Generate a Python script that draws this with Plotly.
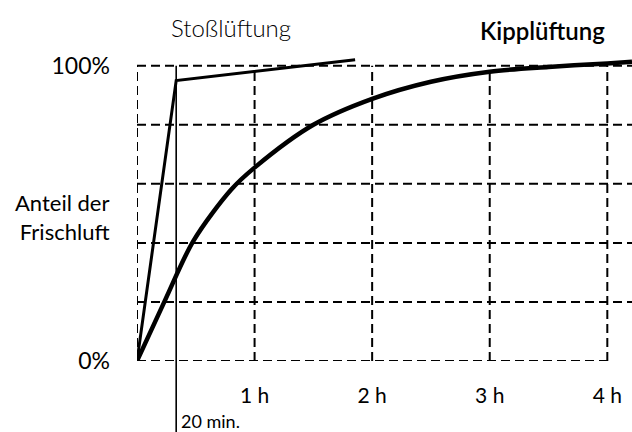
import plotly.graph_objects as go

# ---- data ----
kipp_hours = [0, 0.24, 0.48, 0.8, 1.0, 1.5, 2.0, 2.5, 3.0, 3.5, 4.0, 4.21]
kipp_share = [0, 20.7, 40.7, 58, 65.5, 80, 88.8, 94.6, 98, 99.6, 100.8, 101.4]
stoss_hours = [0, 1/3, 1.855]
stoss_share = [0, 95, 102]
x_ticks = [1, 2, 3, 4]
x_tick_labels = ["1 h", "2 h", "3 h", "4 h"]
y_ticks = [0, 100]
y_tick_labels = ["0%", "100%"]
grid_x = [0, 1, 2, 3, 4]
grid_y = [0, 20, 40, 60, 80, 100]
marker_hours = 1/3
marker_label = "20 min."

FONT = "Lato"
X_MAX = 4.21
Y_MAX = 105

fig = go.Figure()
fig.add_trace(go.Scatter(x=kipp_hours, y=kipp_share, mode="lines",
                         line=dict(color="black", width=4.5, shape="spline", smoothing=0.9),
                         name="Kipplüftung", showlegend=False, hoverinfo="skip"))
fig.add_trace(go.Scatter(x=stoss_hours, y=stoss_share, mode="lines",
                         line=dict(color="black", width=3),
                         name="Stoßlüftung", showlegend=False, hoverinfo="skip"))

dash = "9px,5px"
shapes = []
for gx in grid_x:
    shapes.append(dict(type="line", xref="x", yref="y", x0=gx, x1=gx, y0=0, y1=100,
                       line=dict(color="black", width=2, dash=dash), layer="below"))
for gy in grid_y:
    shapes.append(dict(type="line", xref="x", yref="y", x0=0, x1=(4 if gy == 0 else X_MAX),
                       y0=gy, y1=gy, line=dict(color="black", width=2, dash=dash), layer="below"))
# 20 min marker line, reaching below the plot
shapes.append(dict(type="line", xref="x", yref="paper", x0=marker_hours, x1=marker_hours,
                   y0=-0.235, y1=100 / Y_MAX, line=dict(color="black", width=1.6)))

annotations = [
    dict(text="Stoßlüftung", xref="paper", yref="paper", x=(231 - 137) / 495, y=(361 - 27) / 310,
         xanchor="center", yanchor="middle", showarrow=False,
         font=dict(family=FONT, size=24, color="black", weight=300)),
    dict(text="Kipplüftung", xref="paper", yref="paper", x=(542 - 137) / 495, y=(361 - 30) / 310,
         xanchor="center", yanchor="middle", showarrow=False,
         font=dict(family=FONT, size=24, color="black", weight=600)),
    dict(text="Anteil der<br>Frischluft", xref="paper", yref="paper", x=(111 - 137) / 495,
         y=(361 - 217) / 310, xanchor="right", yanchor="middle", align="right", showarrow=False,
         font=dict(family=FONT, size=22, color="black")),
    dict(text=marker_label, xref="x", yref="paper", x=marker_hours, y=(361 - 421) / 310,
         xanchor="left", yanchor="middle", xshift=3, showarrow=False,
         font=dict(family=FONT, size=18, color="black")),
]

fig.update_layout(
    width=632, height=432,
    margin=dict(l=137, r=0, t=51, b=71, autoexpand=False),
    paper_bgcolor="white", plot_bgcolor="white",
    shapes=shapes, annotations=annotations,
    xaxis=dict(range=[0, X_MAX], showgrid=False, zeroline=False, showline=False,
               automargin=False,
               tickvals=x_ticks, ticktext=x_tick_labels, ticks="",
               ticklabelstandoff=20,
               tickfont=dict(family=FONT, size=21, color="black")),
    yaxis=dict(range=[0, Y_MAX], showgrid=False, zeroline=False, showline=False,
               automargin=False,
               tickvals=y_ticks, ticktext=y_tick_labels, ticks="",
               ticklabelstandoff=26,
               tickfont=dict(family=FONT, size=23, color="black")),
)

fig.write_html("out.html", config={"displayModeBar": False},
               post_script="document.body.style.margin='0px';document.body.style.overflow='hidden';")
